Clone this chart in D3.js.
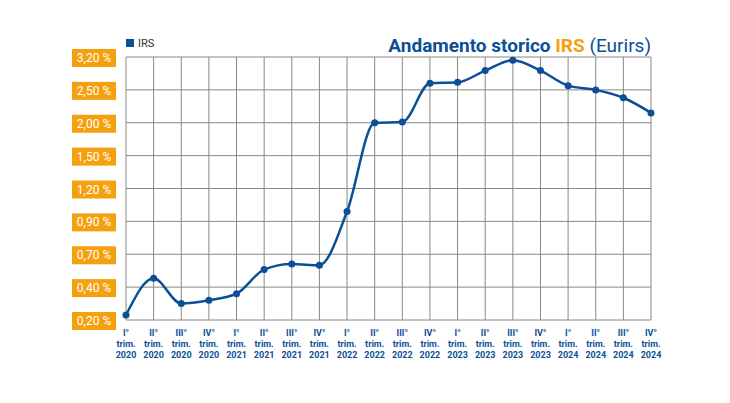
<!DOCTYPE html>
<html><head><meta charset="utf-8">
<script src="https://cdn.jsdelivr.net/npm/d3@7"></script>
<style>body{margin:0;background:#fff;font-family:Roboto,sans-serif}</style>
</head><body><svg width="730" height="403"></svg>
<script>
const quarters = ["I°","II°","III°","IV°"];
const years = ["2020","2021","2022","2023","2024"];
const categories = years.flatMap(y => quarters.map(q => [q, "trim.", y]));
const tickValues = [0.20, 0.40, 0.70, 0.90, 1.20, 1.50, 2.00, 2.50, 3.20];
const irs = [0.23, 0.48, 0.30, 0.32, 0.36, 0.56, 0.61, 0.60, 0.99, 2.00,
             2.01, 2.64, 2.66, 2.91, 3.13, 2.91, 2.59, 2.50, 2.38, 2.15];

const blue = "#0b4f96", orange = "#f5a00e";
const svg = d3.select("svg");
const x = d3.scalePoint().domain(d3.range(categories.length)).range([126, 651]);
const y = d3.scaleLinear().domain(tickValues)
  .range(tickValues.map((d, i) => 320 - i * (263 / 8)));

// grid
svg.append("g").selectAll("line").data(x.domain()).join("line")
  .attr("x1", d => x(d)).attr("x2", d => x(d)).attr("y1", 57).attr("y2", 320)
  .attr("stroke", "#888").attr("stroke-width", 1);
svg.append("g").selectAll("line").data(tickValues).join("line")
  .attr("x1", 126).attr("x2", 651).attr("y1", d => y(d)).attr("y2", d => y(d))
  .attr("stroke", "#888").attr("stroke-width", 1);

// y labels in orange boxes
const fmt = v => v.toFixed(2).replace(".", ",") + " %";
const yl = svg.append("g").selectAll("g").data(tickValues).join("g")
  .attr("transform", d => `translate(0,${y(d)})`);
yl.append("rect").attr("x", 72).attr("y", -8).attr("width", 44).attr("height", 18).attr("fill", orange);
yl.append("text").attr("x", 94).attr("y", 5).attr("text-anchor", "middle")
  .attr("fill", "#fff").attr("font-size", 12).text(fmt);

// x labels
const xl = svg.append("g").selectAll("text").data(x.domain()).join("text")
  .attr("text-anchor", "middle").attr("fill", blue).attr("font-size", 9).attr("font-weight", "bold");
xl.selectAll("tspan").data(d => categories[d].map(t => [d, t])).join("tspan")
  .attr("x", d => x(d[0])).attr("y", (d, i) => 336 + i * 11).text(d => d[1]);

// line
svg.append("path").datum(irs)
  .attr("d", d3.line().x((d, i) => x(i)).y(d => y(d)).curve(d3.curveMonotoneX))
  .attr("fill", "none").attr("stroke", blue).attr("stroke-width", 2.5);
svg.append("g").selectAll("circle").data(irs).join("circle")
  .attr("cx", (d, i) => x(i)).attr("cy", d => y(d)).attr("r", 3.5).attr("fill", blue);

// legend
svg.append("rect").attr("x", 126).attr("y", 39).attr("width", 8).attr("height", 8).attr("fill", blue);
svg.append("text").attr("x", 138).attr("y", 47).attr("font-size", 11).attr("fill", "#333").text("IRS");

// title
const t = svg.append("text").attr("x", 651).attr("y", 52).attr("text-anchor", "end")
  .attr("font-size", 19).attr("fill", blue);
t.append("tspan").attr("font-weight", "bold").text("Andamento storico ");
t.append("tspan").attr("font-weight", "bold").attr("fill", orange).text("IRS");
t.append("tspan").text(" (Eurirs)");
</script></body></html>
